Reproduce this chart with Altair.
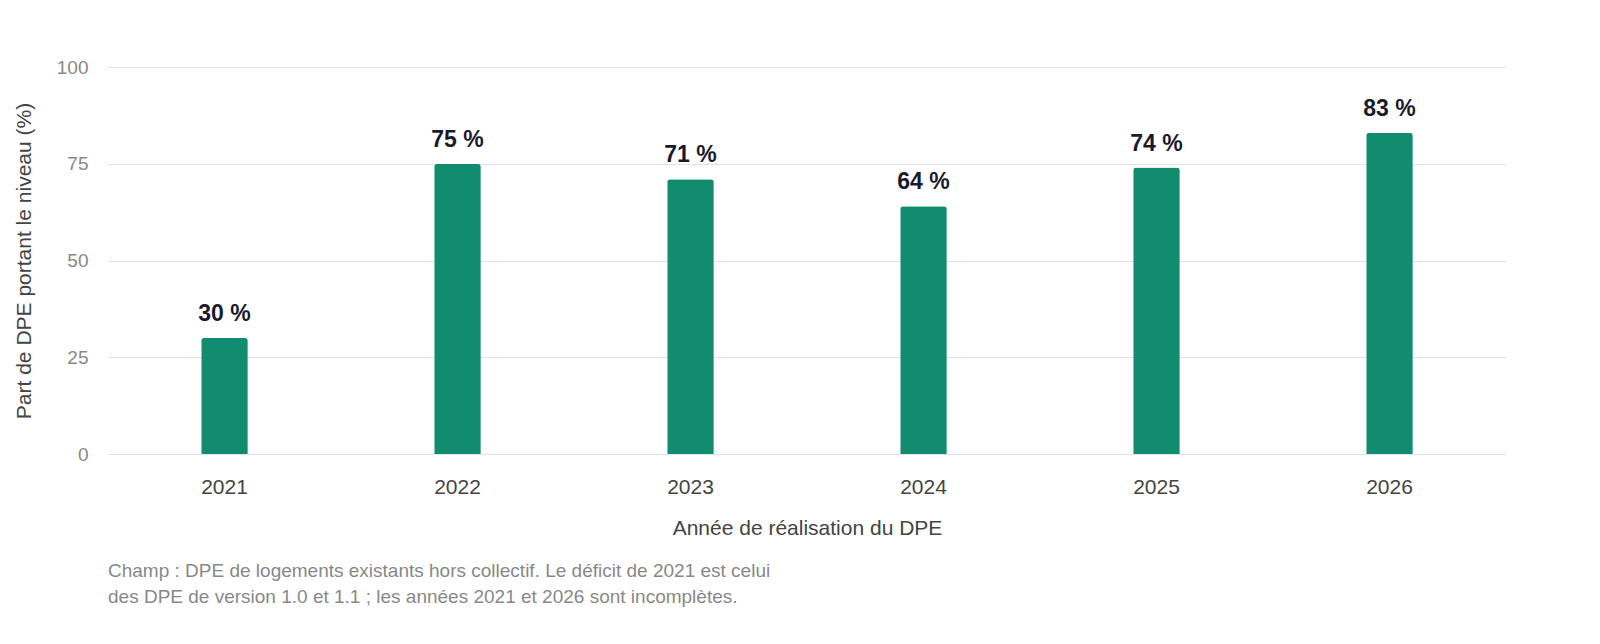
import altair as alt
import pandas as pd

years = ["2021", "2022", "2023", "2024", "2025", "2026"]
shares = [30, 75, 71, 64, 74, 83]
labels = ["30 %", "75 %", "71 %", "64 %", "74 %", "83 %"]

df = pd.DataFrame({"year": years, "share": shares, "label": labels})

font = "Liberation Sans"

base = alt.Chart(df).encode(
    x=alt.X(
        "year:N",
        title="Année de réalisation du DPE",
        scale=alt.Scale(paddingInner=0.8, paddingOuter=0.4),
        axis=alt.Axis(labelAngle=0, labelFontSize=21, labelColor="#444444",
                      titleFontSize=21, titleFontWeight="normal", titleColor="#444444",
                      labelPadding=22, titlePadding=20, domain=False, ticks=False),
    ),
    y=alt.Y(
        "share:Q",
        title="Part de DPE portant le niveau (%)",
        scale=alt.Scale(domain=[0, 100]),
        axis=alt.Axis(values=[0, 25, 50, 75, 100], labelFontSize=19, labelColor="#888888",
                      titleFontSize=21, titleFontWeight="normal", titleColor="#444444",
                      labelPadding=20, titlePadding=22, domain=False, ticks=False,
                      gridColor="#e2e2e2"),
    ),
)

bars = base.mark_bar(color="#118C6E", cornerRadiusTopLeft=3, cornerRadiusTopRight=3)
text = base.mark_text(dy=-24, fontSize=23, fontWeight="bold", color="#1a1a2e", font=font).encode(
    text="label:N"
)

chart = (
    (bars + text)
    .properties(
        width=1398,
        height=387,
        padding={"left": 5, "top": 50, "right": 5, "bottom": 0},
        title=alt.TitleParams(
            text=["Champ : DPE de logements existants hors collectif. Le déficit de 2021 est celui",
                  "des DPE de version 1.0 et 1.1 ; les années 2021 et 2026 sont incomplètes."],
            orient="bottom", anchor="start", frame="group", fontSize=19,
            fontWeight="normal", color="#888888", font=font, offset=24, lineHeight=26,
        ),
    )
    .configure(font=font)
    .configure_view(stroke=None)
)

chart.save("out.html", embed_options={"renderer": "svg", "actions": False})
